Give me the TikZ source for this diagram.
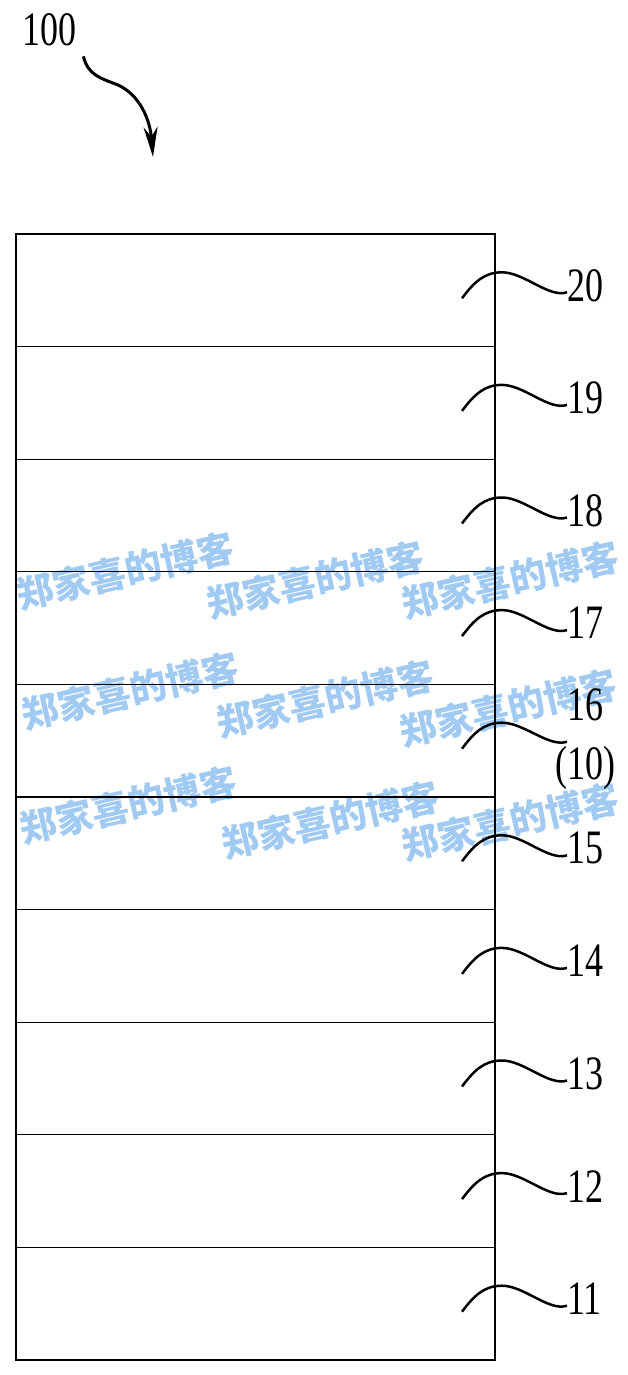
\documentclass[tikz,border=0pt]{standalone}
\usepackage{fontspec}
\setmainfont{Liberation Serif}[FakeStretch=0.75]
\newfontfamily\cjk{Noto Sans CJK SC}
\usetikzlibrary{arrows.meta,positioning,calc}
\definecolor{wm}{RGB}{160,202,242}

\tikzset{
	layer/.style={draw, line width=1.3pt, minimum width=479pt, minimum height=112.6pt, inner sep=0pt, outer sep=0pt, anchor=north west},
	lbl/.style={font=\fontsize{48}{58}\selectfont, inner sep=0pt, anchor=west},
	lead/.style={line width=2.5pt, to path={.. controls +(12,-16) and +(-18,0) .. ++(40,-26) .. controls +(22,0) and +(-18,6) .. (\tikztotarget)}},
	wmark/.style={text=wm, font=\cjk\bfseries\fontsize{37}{37}\selectfont, rotate=13, inner sep=0pt},
	pointer/.style={line width=3pt, -{Stealth[length=30pt,width=14pt]}}
}

\begin{document}
\begin{tikzpicture}[x=1pt,y=-1pt]
		\useasboundingbox (0,0) rectangle (627,1375);

		\node [wmark] (m1) at (125,571) {郑家喜的博客};
		\node [wmark] (m2) at (315,580) {郑家喜的博客};
		\node [wmark] (m3) at (510,580) {郑家喜的博客};
		\node [wmark] (m4) at (130,691) {郑家喜的博客};
		\node [wmark] (m5) at (325,699) {郑家喜的博客};
		\node [wmark] (m6) at (508,708) {郑家喜的博客};
		\node [wmark] (m7) at (128,805) {郑家喜的博客};
		\node [wmark] (m8) at (330,820) {郑家喜的博客};
		\node [wmark] (m9) at (510,822) {郑家喜的博客};

		\node [layer] (L20) at (16,234) {};
		\node [layer, below=0pt of L20] (L19) {};
		\node [layer, below=0pt of L19] (L18) {};
		\node [layer, below=0pt of L18] (L17) {};
		\node [layer, below=0pt of L17] (L16) {};
		\node [layer, below=0pt of L16] (L15) {};
		\node [layer, below=0pt of L15] (L14) {};
		\node [layer, below=0pt of L14] (L13) {};
		\node [layer, below=0pt of L13] (L12) {};
		\node [layer, below=0pt of L12] (L11) {};

		\node [lbl] (n20) at ($(L20.east)+(72,-5)$) {20};
		\node [lbl] (n19) at ($(L19.east)+(72,-5)$) {19};
		\node [lbl] (n18) at ($(L18.east)+(72,-5)$) {18};
		\node [lbl] (n17) at ($(L17.east)+(72,-5)$) {17};
		\node [lbl] (n16) at ($(L16.east)+(72,-36)$) {16};
		\node [lbl, below=25pt of n16] (n10) {(10)};
		\node [lbl] (n15) at ($(L15.east)+(72,-5)$) {15};
		\node [lbl] (n14) at ($(L14.east)+(72,-5)$) {14};
		\node [lbl] (n13) at ($(L13.east)+(72,-5)$) {13};
		\node [lbl] (n12) at ($(L12.east)+(72,-5)$) {12};
		\node [lbl] (n11) at ($(L11.east)+(72,-5)$) {11};

		\coordinate (s20) at ($(L20.east)+(-33,8)$);
		\coordinate (s19) at ($(L19.east)+(-33,8)$);
		\coordinate (s18) at ($(L18.east)+(-33,8)$);
		\coordinate (s17) at ($(L17.east)+(-33,8)$);
		\coordinate (s16) at ($(L16.east)+(-33,8)$);
		\coordinate (s15) at ($(L15.east)+(-33,8)$);
		\coordinate (s14) at ($(L14.east)+(-33,8)$);
		\coordinate (s13) at ($(L13.east)+(-33,8)$);
		\coordinate (s12) at ($(L12.east)+(-33,8)$);
		\coordinate (s11) at ($(L11.east)+(-33,8)$);

		\draw
			(s20) edge [lead] ([yshift=-7pt]n20.west)
			(s19) edge [lead] ([yshift=-7pt]n19.west)
			(s18) edge [lead] ([yshift=-7pt]n18.west)
			(s17) edge [lead] ([yshift=-7pt]n17.west)
			(s16) edge [lead] ([yshift=-37pt]n16.west)
			(s15) edge [lead] ([yshift=-7pt]n15.west)
			(s14) edge [lead] ([yshift=-7pt]n14.west)
			(s13) edge [lead] ([yshift=-7pt]n13.west)
			(s12) edge [lead] ([yshift=-7pt]n12.west)
			(s11) edge [lead] ([yshift=-7pt]n11.west)
		;

		\node [lbl] (n100) at (22,30) {100};
		\coordinate (tip) at (153,157);
		\draw [pointer] ([shift={(7,10)}]n100.south east) .. controls (88,75) and (100,78) .. (118,85) .. controls (140,95) and (150,120) .. (tip);
	\end{tikzpicture}
\end{document}
